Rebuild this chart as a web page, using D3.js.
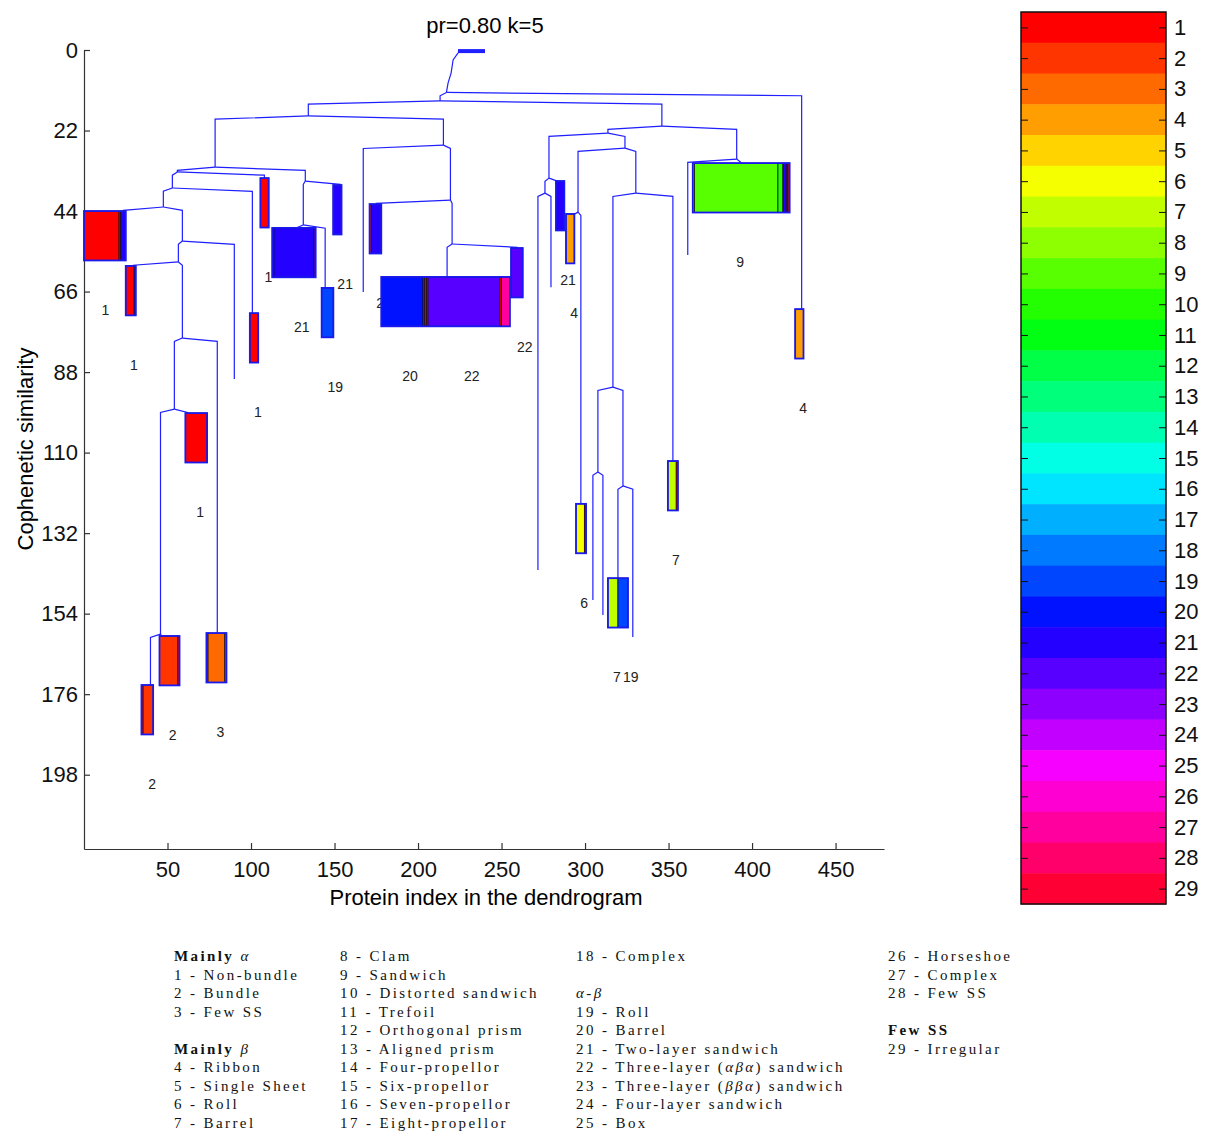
<!DOCTYPE html>
<html>
<head>
<meta charset="utf-8">
<script src="https://cdn.jsdelivr.net/npm/d3@7"></script>
<style>
  body { margin: 0; background: #fff; }
  svg { display: block; }
</style>
</head>
<body>
<div id="chart"></div>
<script>
// merge points of the dendrogram: [id, parent, protein index, cophenetic similarity]
const merges = [
  ["R",   null,  217.0, 11.6],
  ["N1",  "R",   213.2, 13.9],
  ["N2",  "N1",  134.3, 18.0],
  ["N4",  "N2",   78.5, 32.0],
  ["N12", "N4",   55.9, 33.3],
  ["N13", "N12",  52.9, 37.7],
  ["N14", "N13",  47.5, 42.9],
  ["N16", "N14",  58.9, 52.2],
  ["N17", "N16",  56.5, 57.9],
  ["N18", "N17",  58.9, 78.7],
  ["N19", "N18",  54.1, 98.1],
  ["N20", "N19",  45.8, 159.6],
  ["N9",  "N4",  132.5, 35.8],
  ["N10", "N9",  131.3, 47.8],
  ["N5",  "N2",  215.2, 26.0],
  ["N8",  "N5",  219.4, 41.0],
  ["N7",  "N8",  220.4, 53.0],
  ["N3",  "N1",  346.0, 20.8],
  ["N21", "N3",  313.7, 22.7],
  ["N24", "N21", 278.4, 35.0],
  ["N23", "N24", 276.0, 39.1],
  ["N25", "N21", 323.9, 26.8],
  ["N26", "N25", 295.8, 44.3],
  ["N27", "N25", 330.4, 39.1],
  ["N28", "N27", 316.7, 92.1],
  ["N29", "N28", 307.7, 115.3],
  ["N30", "N28", 322.7, 119.1],
  ["N22", "N3",  390.8, 29.8]
];

// single proteins hanging off the tree: [parent, protein index, end similarity]
const leaves = [
  ["N16",  90.0,  89.9],
  ["N5",  167.2,  66.1],
  ["N23", 271.8, 142.1],
  ["N23", 279.6,  64.8],
  ["N29", 304.7, 150.3],
  ["N29", 310.7, 154.4],
  ["N30", 328.6, 160.4],
  ["N22", 361.5,  56.0]
];

// collapsed clusters: [parent, attach index, first index, top similarity, [class, count] segments, labelled classes]
const clusters = [
  ["N14",  23.6,   0.0,  44.0, [[1,21],[1,1],[21,3]], [1]],
  ["N17",  29.6,  25.0,  59.0, [[1,5],[21,1]], [1]],
  ["N20",  39.8,  34.4, 173.5, [[1,1],[2,6]], [2]],
  ["N20",  47.0,  45.2, 160.1, [[2,11],[1,1]], [2]],
  ["N19",  61.9,  60.7,  99.2, [[1,13]], [1]],
  ["N18",  79.8,  73.3, 159.3, [[1,1],[3,10],[2,1]], [3]],
  ["N13", 100.8,  99.3,  71.9, [[1,5]], [1]],
  ["N12", 108.0, 105.6,  35.0, [[1,5]], [1]],
  ["N10", 126.5, 112.7,  48.6, [[1,1],[21,24],[22,1]], [21]],
  ["N10", 144.4, 142.3,  65.0, [[19,7]], [19]],
  ["N9",  153.4, 149.2,  36.9, [[21,5]], [21]],
  ["N8",  175.0, 171.0,  42.1, [[1,1],[21,6]], [21]],
  ["N7",  217.4, 178.0,  62.0, [[20,25],[1,1],[23,1],[1,1],[22,43],[1,1],[27,5]], [20,22]],
  ["N7",  259.3, 255.7,  54.1, [[22,7]], [22]],
  ["N24", 283.8, 282.6,  35.8, [[21,5]], [21]],
  ["N26", 292.2, 288.6,  44.8, [[4,5]], [4]],
  ["N26", 297.5, 294.6, 124.0, [[6,5],[1,1]], [6]],
  ["N30", 319.7, 313.7, 144.3, [[7,6],[19,6]], [7,19]],
  ["N27", 352.6, 349.6, 112.3, [[7,5],[1,1]], [7]],
  ["N22", 393.2, 364.5,  30.9, [[9,1],[9,50],[10,3],[21,2],[22,1],[1,1]], [9]],
  ["R",   429.7, 425.8,  70.8, [[4,5]], [4]]
];

// tight group at similarity 0 and the stem down to the root
const topGroup = [223.9, 240.1];
const stem = [[224.0, 0.8], [221.0, 2.7], [219.8, 6.3], [218.0, 9.0], [217.0, 11.6]];

const yTicks = [0, 22, 44, 66, 88, 110, 132, 154, 176, 198];
const xTicks = [50, 100, 150, 200, 250, 300, 350, 400, 450];
const classes = d3.range(1, 30);

const legendCols = [
  ["*Mainly| α", "1 - Non-bundle", "2 - Bundle", "3 - Few SS", "", "*Mainly| β", "4 - Ribbon", "5 - Single Sheet", "6 - Roll", "7 - Barrel"],
  ["8 - Clam", "9 - Sandwich", "10 - Distorted sandwich", "11 - Trefoil", "12 - Orthogonal prism", "13 - Aligned prism", "14 - Four-propellor", "15 - Six-propellor", "16 - Seven-propellor", "17 - Eight-propellor"],
  ["18 - Complex", "", "α-β", "19 - Roll", "20 - Barrel", "21 - Two-layer sandwich", "22 - Three-layer (αβα) sandwich", "23 - Three-layer (ββα) sandwich", "24 - Four-layer sandwich", "25 - Box"],
  ["26 - Horseshoe", "27 - Complex", "28 - Few SS", "", "*Few SS", "29 - Irregular"]
];

const W = 1207, H = 1133;
const BOX_H = 13.5, LABEL_DROP = 27, TILT = 0.9;
const LINE = "#1f1fff";
const sans = "'Liberation Sans', Arial, sans-serif";

const svg = d3.select("#chart").append("svg").attr("width", W).attr("height", H);

const x = d3.scaleLinear().domain([0, 479]).range([84, 884]);
const y = d3.scaleLinear().domain([0, 218.3]).range([50, 849]);
const classColor = c => d3.hsl((c - 1) * 360 / 29, 1, 0.5).toString();

//axes
const yAxis = d3.axisLeft(y).tickValues(yTicks).tickSizeInner(-6).tickSizeOuter(0).tickPadding(6);
const xAxis = d3.axisBottom(x).tickValues(xTicks).tickSizeInner(-6).tickSizeOuter(0).tickPadding(12);
svg.append("g").attr("transform", `translate(${x(0)},0)`).call(yAxis);
svg.append("g").attr("transform", `translate(0,${y(218.3)})`).call(xAxis);
svg.selectAll(".tick text").attr("font-family", sans).attr("font-size", 22).attr("fill", "#111");
svg.selectAll(".domain, .tick line").attr("stroke", "#333").attr("stroke-width", 1.2);

svg.append("text").attr("x", 485).attr("y", 33).attr("text-anchor", "middle")
  .attr("font-family", sans).attr("font-size", 22).text("pr=0.80 k=5");
svg.append("text").attr("x", 486).attr("y", 905).attr("text-anchor", "middle")
  .attr("font-family", sans).attr("font-size", 22).text("Protein index in the dendrogram");
svg.append("text").attr("transform", "translate(25,449) rotate(-90)").attr("dy", "0.35em")
  .attr("text-anchor", "middle").attr("font-family", sans).attr("font-size", 22).text("Cophenetic similarity");

//tree links
const pos = {};
merges.forEach(m => { pos[m[0]] = { x: m[2], y: m[3] }; });
const line = d3.line();
function link(parent, cx, cy) {
  const p = pos[parent];
  return line([[x(p.x), y(p.y)], [x(cx), y(p.y + TILT)], [x(cx), y(cy)]]);
}

const g = svg.append("g").attr("fill", "none").attr("stroke", LINE).attr("stroke-width", 1.2);
merges.filter(m => m[1]).forEach(m => g.append("path").attr("d", link(m[1], m[2], m[3])));
leaves.forEach(l => g.append("path").attr("d", link(l[0], l[1], l[2])));
clusters.forEach(c => g.append("path").attr("d", link(c[0], c[1], c[3])));
g.append("path").attr("d", line(stem.map(p => [x(p[0]), y(p[1])])));
g.append("line").attr("x1", x(topGroup[0])).attr("x2", x(topGroup[1]))
  .attr("y1", y(0.3)).attr("y2", y(0.3)).attr("stroke-width", 4);

//cluster labels (drawn under the boxes)
clusters.forEach(c => {
  const [, , start, top, segs, labels] = c;
  let acc = start;
  const spans = segs.map(s => { const o = { cls: s[0], n: s[1], mid: acc + s[1] / 2 }; acc += s[1]; return o; });
  labels.forEach(cls => {
    const best = spans.filter(s => s.cls === cls).sort((a, b) => b.n - a.n)[0];
    svg.append("text").attr("x", x(best.mid)).attr("y", y(top + LABEL_DROP)).attr("dy", "0.35em")
      .attr("font-family", sans).attr("font-size", 14).attr("fill", "#222").text(cls);
  });
});

//cluster boxes
clusters.forEach(c => {
  const [, , start, top, segs] = c;
  const bg = svg.append("g");
  let acc = start;
  segs.forEach(s => {
    bg.append("rect").attr("x", x(acc)).attr("width", x(acc + s[1]) - x(acc))
      .attr("y", y(top)).attr("height", y(top + BOX_H) - y(top))
      .attr("fill", classColor(s[0])).attr("stroke", "#111").attr("stroke-width", 0.8);
    acc += s[1];
  });
  bg.append("rect").attr("x", x(start)).attr("width", x(acc) - x(start))
    .attr("y", y(top)).attr("height", y(top + BOX_H) - y(top))
    .attr("fill", "none").attr("stroke", "#1a1aee").attr("stroke-width", 1.8);
});

//colorbar
const cb = d3.scaleLinear().domain([0.5, 29.5]).range([12, 904]);
const cbX0 = 1021, cbX1 = 1166;
svg.append("g").selectAll("rect").data(classes).join("rect")
  .attr("x", cbX0).attr("width", cbX1 - cbX0)
  .attr("y", d => cb(d - 0.5)).attr("height", d => cb(d + 0.5) - cb(d - 0.5) + 0.5)
  .attr("fill", classColor);
svg.append("rect").attr("x", cbX0).attr("y", cb(0.5)).attr("width", cbX1 - cbX0)
  .attr("height", cb(29.5) - cb(0.5)).attr("fill", "none").attr("stroke", "#111").attr("stroke-width", 1.5);
const cbLeft = svg.append("g").attr("transform", `translate(${cbX0},0)`)
  .call(d3.axisRight(cb).tickValues(classes).tickSize(7).tickFormat(""));
const cbRight = svg.append("g").attr("transform", `translate(${cbX1},0)`)
  .call(d3.axisRight(cb).tickValues(classes).tickSizeInner(-7).tickSizeOuter(0).tickPadding(8));
[cbLeft, cbRight].forEach(a => {
  a.select(".domain").remove();
  a.selectAll(".tick line").attr("stroke", "#111");
});
cbRight.selectAll(".tick text").attr("font-family", sans).attr("font-size", 22).attr("fill", "#111");

//legend
const legX = [174, 340, 576, 888];
const serif = "'Liberation Serif', 'Times New Roman', serif";
legendCols.forEach((col, ci) => {
  col.forEach((row, ri) => {
    if (!row) return;
    const bold = row.startsWith("*");
    const txt = svg.append("text").attr("x", legX[ci]).attr("y", 961 + ri * 18.55)
      .attr("font-family", serif).attr("font-size", 15).attr("letter-spacing", 2.4).attr("fill", "#111");
    const parts = (bold ? row.slice(1) : row).split(/(\||[αβ])/).filter(p => p && p !== "|");
    let boldOn = bold;
    parts.forEach(p => {
      const greek = /[αβ]/.test(p);
      txt.append("tspan").text(p)
        .attr("font-style", greek ? "italic" : null)
        .attr("font-weight", boldOn && !greek ? "bold" : null);
    });
  });
});
</script>
</body>
</html>
